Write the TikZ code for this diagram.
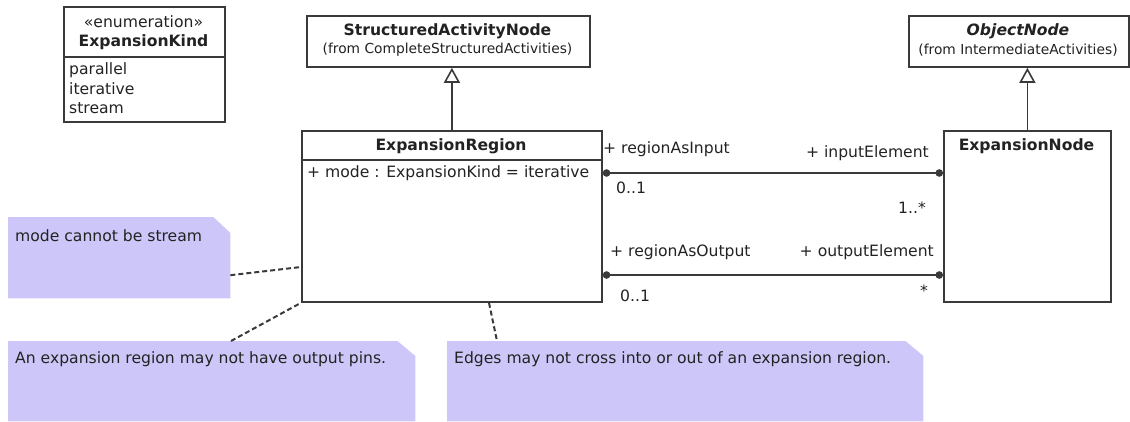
\documentclass[tikz,border=0pt]{standalone}
\usepackage{fontspec}
\setmainfont{DejaVu Sans}
\usetikzlibrary{arrows.meta,calc}
\definecolor{ink}{HTML}{222222}
\definecolor{edge}{HTML}{3A3A3A}
\definecolor{notefill}{HTML}{CCC7F8}
\tikzset{
  box/.style={draw=edge, line width=1.8pt, fill=white, inner sep=0pt, anchor=north west},
  txt/.style={inner sep=0pt, text=ink, font=\fontsize{15.6}{18}\selectfont},
  btxt/.style={inner sep=0pt, text=ink, font=\fontsize{15.6}{18}\selectfont\bfseries},
  stxt/.style={inner sep=0pt, text=ink, font=\fontsize{13.8}{16}\selectfont},
  notebox/.style={inner sep=0pt, anchor=north west},
  gen/.style={draw=edge, line width=1.8pt, -{Triangle[open, length=15pt, width=16pt, line width=1.6pt]}},
  assoc/.style={draw=edge, line width=1.8pt, {Circle[length=7.5pt]}-{Circle[length=7.5pt]}},
  notelink/.style={draw=edge, line width=2pt, dash pattern=on 5pt off 3pt}
}
\begin{document}
\begin{tikzpicture}[x=1pt,y=-1pt]
\useasboundingbox (0,0) rectangle (1130,421);

% ---------- notes ----------
\node[notebox, minimum width=222pt, minimum height=81pt] (n1) at (8,217) {};
\fill[notefill] (n1.north west) -- ($(n1.north east)+(-17,0)$) -- ($(n1.north east)+(0,16)$) -- (n1.south east) -- (n1.south west) -- cycle;
\node[txt, anchor=west] (n1t) at (15,236) {mode cannot be stream};

\node[notebox, minimum width=407pt, minimum height=80pt] (n2) at (8,341) {};
\fill[notefill] (n2.north west) -- ($(n2.north east)+(-18,0)$) -- ($(n2.north east)+(0,15)$) -- (n2.south east) -- (n2.south west) -- cycle;
\node[txt, anchor=west] (n2t) at (15,359) {An expansion region may not have output pins.};

\node[notebox, minimum width=476pt, minimum height=80pt] (n3) at (447,341) {};
\fill[notefill] (n3.north west) -- ($(n3.north east)+(-18,0)$) -- ($(n3.north east)+(0,15)$) -- (n3.south east) -- (n3.south west) -- cycle;
\node[txt, anchor=west] (n3t) at (454,359) {Edges may not cross into or out of an expansion region.};

% ---------- enumeration ----------
\node[box, minimum width=161pt, minimum height=115pt] (ek) at (63,6) {};
\draw[edge, line width=1.8pt] ($(ek.north west)+(0,51)$) -- ($(ek.north east)+(0,51)$);
\node[txt] (ekst) at (143.5,22) {«enumeration»};
\node[btxt] (ekn) at (143.5,42) {ExpansionKind};
\node[txt, anchor=west] (ek1) at (69,70) {parallel};
\node[txt, anchor=west] (ek2) at (69,89) {iterative};
\node[txt, anchor=west] (ek3) at (69,108) {stream};

% ---------- StructuredActivityNode ----------
\node[box, minimum width=283pt, minimum height=51pt] (san) at (306,15) {};
\node[btxt] (sant) at (447.5,31) {StructuredActivityNode};
\node[stxt] (sanf) at (447.5,50) {(from CompleteStructuredActivities)};

% ---------- ObjectNode ----------
\node[box, minimum width=220pt, minimum height=51pt] (on) at (908,15) {};
\node[btxt, font=\fontsize{15.6}{18}\selectfont\bfseries\itshape] (ont) at (1018,31) {ObjectNode};
\node[stxt] (onf) at (1018,50) {(from IntermediateActivities)};

% ---------- ExpansionRegion ----------
\node[box, minimum width=300pt, minimum height=171pt] (er) at (301,130) {};
\draw[edge, line width=1.8pt] ($(er.north west)+(0,30)$) -- ($(er.north east)+(0,30)$);
\node[btxt] (ert) at (451,146) {ExpansionRegion};
\node[txt, anchor=west] (era) at (307,173) {+ mode : ExpansionKind = iterative};

% ---------- ExpansionNode ----------
\node[box, minimum width=167pt, minimum height=171pt] (en) at (943,130) {};
\node[btxt] (ent) at (1026.5,146) {ExpansionNode};

% ---------- generalizations ----------
\draw[gen] (er.north) -- (er.north |- san.south);
\draw[gen] (en.north) -- (en.north |- on.south);

% ---------- associations ----------
\draw[assoc] ($(er.north east)+(0,43)$) -- ($(en.north west)+(0,43)$);
\draw[assoc] ($(er.north east)+(0,145)$) -- ($(en.north west)+(0,145)$);

\node[txt, anchor=west] (l1) at (603,149) {+ regionAsInput};
\node[txt, anchor=east] (l2) at (929,153) {+ inputElement};
\node[txt, anchor=west] (l3) at (616,188) {0..1};
\node[txt, anchor=east] (l4) at (926,208) {1..*};
\node[txt, anchor=west] (l5) at (610,252) {+ regionAsOutput};
\node[txt, anchor=east] (l6) at (934,252) {+ outputElement};
\node[txt, anchor=west] (l7) at (620,296) {0..1};
\node[txt, anchor=east] (l8) at (928,291) {*};

% ---------- note links ----------
\draw[notelink] ($(n1.east)+(0,17.5)$) -- ($(er.north west)+(0,137)$);
\draw[notelink] ($(n2.north west)+(223,0)$) -- (er.south west);
\draw[notelink] ($(er.south west)+(188,0)$) -- ($(n3.north west)+(50,0)$);
\end{tikzpicture}
\end{document}
